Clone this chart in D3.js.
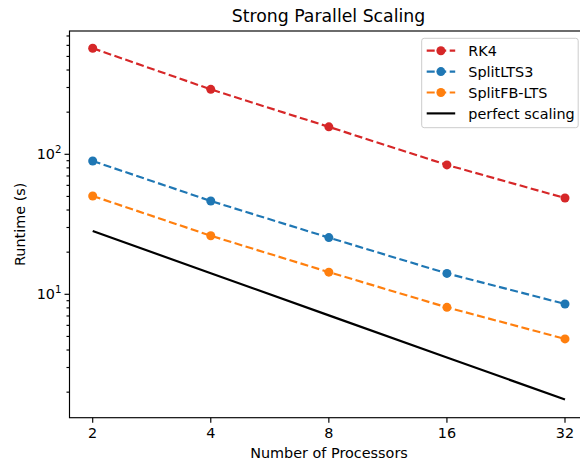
<!DOCTYPE html>
<html>
<head>
<meta charset="utf-8">
<script src="https://cdn.jsdelivr.net/npm/d3@7"></script>
<style>
  body { margin: 0; background: #fff; }
  svg { display: block; font-family: "DejaVu Sans", sans-serif; }
</style>
</head>
<body>
<svg id="chart" width="580" height="466"></svg>
<script>
// data
const procs = [2, 4, 8, 16, 32];
const rk4 = [572, 291, 157, 84, 48.7];
const splitLTS3 = [89.6, 46.4, 25.4, 14.1, 8.53];
const splitFBLTS = [50.4, 26.2, 14.4, 8.07, 4.80];
const perfect = [28.3, 14.15, 7.07, 3.54, 1.77];
const xTicks = [2, 4, 8, 16, 32];
const yMajor = [10, 100];

const series = [
  { name: 'RK4', values: rk4, color: '#d62728', dashed: true },
  { name: 'SplitLTS3', values: splitLTS3, color: '#1f77b4', dashed: true },
  { name: 'SplitFB-LTS', values: splitFBLTS, color: '#ff7f0e', dashed: true },
  { name: 'perfect scaling', values: perfect, color: '#000', dashed: false }
];

// plot box (the right spine falls outside the 580px window)
const box = { left: 69.5, right: 588, top: 31, bottom: 417.7 };

const svg = d3.select('#chart');

const x = d3.scaleLog().base(2).domain([2, 32]).range([92.7, 565]);
const y = d3.scaleLog().domain([10, 100]).range([294.3, 154.3]);
y.domain([y.invert(box.bottom), y.invert(box.top)]).range([box.bottom, box.top]);

const axisW = 1.15;

// minor y ticks
const minor = [];
[1, 10, 100].forEach(function (d) {
  for (let k = 2; k <= 9; k++) {
    const v = d * k;
    if (v > y.domain()[0] && v < y.domain()[1]) minor.push(v);
  }
});

const gy = svg.append('g').attr('transform', 'translate(' + box.left + ',0)');
gy.selectAll('.minor').data(minor).enter().append('line')
  .attr('x1', -3).attr('x2', 0)
  .attr('y1', d => y(d)).attr('y2', d => y(d))
  .attr('stroke', '#000').attr('stroke-width', axisW);
gy.selectAll('.major').data(yMajor).enter().append('line')
  .attr('x1', -5).attr('x2', 0)
  .attr('y1', d => y(d)).attr('y2', d => y(d))
  .attr('stroke', '#000').attr('stroke-width', axisW);
const yl = gy.selectAll('.lab').data(yMajor).enter().append('text')
  .attr('x', -8).attr('y', d => y(d) + 5)
  .attr('text-anchor', 'end')
  .attr('font-size', 14.4).attr('fill', '#000');
yl.append('tspan').text('10');
yl.append('tspan').attr('font-size', 10.2).attr('dy', -6)
  .text(d => Math.round(Math.log10(d)));

// x ticks
const gx = svg.append('g').attr('transform', 'translate(0,' + box.bottom + ')');
gx.selectAll('line').data(xTicks).enter().append('line')
  .attr('x1', d => x(d)).attr('x2', d => x(d))
  .attr('y1', 0).attr('y2', 5)
  .attr('stroke', '#000').attr('stroke-width', axisW);
gx.selectAll('text').data(xTicks).enter().append('text')
  .attr('x', d => x(d)).attr('y', 20.5)
  .attr('text-anchor', 'middle')
  .attr('font-size', 14.4).attr('fill', '#000')
  .text(d => d);

// series
const line = d3.line().x((d, i) => x(procs[i])).y(d => y(d));

series.forEach(function (s) {
  svg.append('path')
    .datum(s.values)
    .attr('d', line)
    .attr('fill', 'none')
    .attr('stroke', s.color)
    .attr('stroke-width', 2.16)
    .attr('stroke-dasharray', s.dashed ? '8,3.5' : null);
  if (s.dashed) {
    svg.selectAll(null).data(s.values).enter().append('circle')
      .attr('cx', (d, i) => x(procs[i]))
      .attr('cy', d => y(d))
      .attr('r', 4.5)
      .attr('fill', s.color);
  }
});

// spines
svg.append('rect')
  .attr('x', box.left).attr('y', box.top)
  .attr('width', box.right - box.left).attr('height', box.bottom - box.top)
  .attr('fill', 'none').attr('stroke', '#000').attr('stroke-width', axisW);

// legend
const leg = svg.append('g').attr('transform', 'translate(421.7,38.3)');
leg.append('rect')
  .attr('width', 156.5).attr('height', 89.4)
  .attr('rx', 2.5)
  .attr('fill', '#fff').attr('fill-opacity', 0.8)
  .attr('stroke', '#ccc').attr('stroke-width', 1);
series.forEach(function (s, i) {
  const cy = 12.4 + i * 20.9;
  leg.append('line')
    .attr('x1', 5).attr('x2', 33.5)
    .attr('y1', cy).attr('y2', cy)
    .attr('stroke', s.color).attr('stroke-width', 2.16)
    .attr('stroke-dasharray', s.dashed ? '8,3.5' : null)
    .attr('stroke-dashoffset', s.dashed ? 0 : null);
  if (s.dashed) {
    leg.append('circle').attr('cx', 19.2).attr('cy', cy).attr('r', 4.5).attr('fill', s.color);
  }
  leg.append('text')
    .attr('x', 46.6).attr('y', cy + 5.2)
    .attr('font-size', 14.4).attr('fill', '#000')
    .text(s.name);
});

// titles
svg.append('text')
  .attr('x', 328.5).attr('y', 21.5)
  .attr('text-anchor', 'middle')
  .attr('font-size', 17.3).attr('fill', '#000')
  .text('Strong Parallel Scaling');

svg.append('text')
  .attr('x', 329).attr('y', 458)
  .attr('text-anchor', 'middle')
  .attr('font-size', 14.4).attr('fill', '#000')
  .text('Number of Processors');

svg.append('text')
  .attr('transform', 'translate(25,' + ((box.top + box.bottom) / 2) + ') rotate(-90)')
  .attr('text-anchor', 'middle')
  .attr('font-size', 14.4).attr('fill', '#000')
  .text('Runtime (s)');
</script>
</body>
</html>
